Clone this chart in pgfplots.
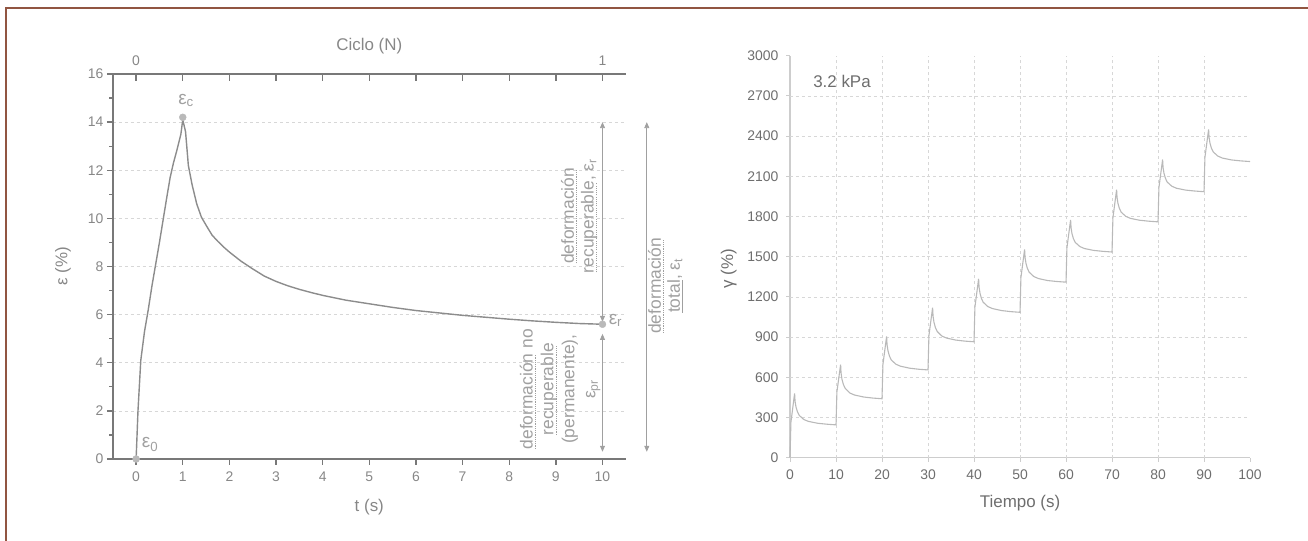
\documentclass[border=0pt]{standalone}
\usepackage{pgfplots}
\pgfplotsset{compat=1.18}
\usepackage{fontspec}
\setmainfont{Liberation Sans}
\usetikzlibrary{arrows.meta}
\newsavebox{\ulbox}
\newcommand{\dotul}[1]{\sbox{\ulbox}{#1}\rlap{\raisebox{-3bp}{\hbox to \wd\ulbox{\leaders\hbox to 2.2bp{\hss\rule{1.1bp}{0.7bp}\hss}\hfill}}}\usebox{\ulbox}}
\newcommand{\solul}[1]{\sbox{\ulbox}{#1}\rlap{\raisebox{-3bp}{\rule{\wd\ulbox}{0.7bp}}}\usebox{\ulbox}}
\definecolor{framec}{RGB}{145,85,65}
\definecolor{axgray}{RGB}{120,120,120}
\definecolor{tickgray}{RGB}{135,135,135}
\definecolor{anngray}{RGB}{160,160,160}
\definecolor{curvegray}{RGB}{140,140,140}
\definecolor{dotgray}{RGB}{185,185,185}
\definecolor{gridgray}{RGB}{215,215,215}
\definecolor{raxis}{RGB}{205,205,205}
\definecolor{rtick}{RGB}{110,110,110}
\definecolor{rcurve}{RGB}{185,185,185}
\tikzset{dblarr/.style={anngray, line width=0.8bp, {Triangle[length=6bp,width=5bp]}-{Triangle[length=6bp,width=5bp]}}}
\begin{document}
\begin{tikzpicture}
\path[use as bounding box] (0,0) rectangle (1308bp,541bp);
\draw[framec, line width=2bp] (6bp,0) -- (6bp,533bp) -- (1308bp,533bp);

% ---------- left chart, main axis ----------
\begin{axis}[at={(112.8bp,82bp)}, anchor=south west, scale only axis,
  width=513bp, height=385bp,
  xmin=-0.5, xmax=10.5, ymin=0, ymax=16,
  axis x line*=bottom, axis y line*=left,
  axis line style={axgray, line width=1.6bp, -},
  xtick={0,...,10}, ytick={0,2,...,16}, minor ytick={1,3,...,15},
  tick align=outside, major tick length=6bp, minor tick length=3.5bp,
  tick style={axgray, line width=1.3bp},
  ymajorgrids, grid style={gridgray, dashed, line width=0.6bp},
  ticklabel style={font=\fontsize{14}{14}\selectfont, text=tickgray},
  xticklabel style={yshift=-3bp},
  /pgf/number format/assume math mode=true,
  xlabel={t (s)}, ylabel={ε (\%)},
  label style={font=\fontsize{17}{17}\selectfont, text=tickgray},
  xlabel style={at={(axis description cs:0.5,-0.125)}, anchor=center},
  ylabel style={at={(axis description cs:-0.097,0.5)}, anchor=center},
  clip=false]
\addplot[curvegray, line width=1.4bp] coordinates {
(0,0) (0.04,2) (0.1,4.1) (0.18,5.3) (0.26,6.2) (0.34,7.2) (0.42,8.1) (0.5,9.0)
(0.59,10.07) (0.66,10.9) (0.73,11.7) (0.8,12.3) (0.87,12.8) (0.96,13.5) (1,14.1)
(1.06,13.6) (1.12,12.2) (1.2,11.4) (1.3,10.6) (1.4,10.05) (1.52,9.65) (1.63,9.3) (1.75,9.05)
(1.87,8.82) (2,8.6) (2.25,8.22) (2.5,7.9) (2.75,7.6) (3,7.38) (3.25,7.2) (3.5,7.05) (3.75,6.92) (4,6.8)
(4.5,6.6) (5,6.45) (5.5,6.3)
(6,6.17) (6.5,6.07) (7,5.97) (7.5,5.89) (8,5.81) (8.5,5.74) (9,5.68) (9.5,5.63) (10,5.6)};
\addplot[only marks, mark=*, mark size=3.5bp, dotgray, mark options={draw=dotgray, fill=dotgray}]
  coordinates {(0,0) (1,14.2) (10,5.6)};
\node[anngray, font=\fontsize{19}{19}\selectfont, anchor=base west, inner sep=0] at (axis cs:0.12,0.46) {ε\textsubscript{0}};
\node[anngray, font=\fontsize{19}{19}\selectfont, anchor=base west, inner sep=0] at (axis cs:0.9,14.75) {ε\textsubscript{c}};
\node[anngray, font=\fontsize{19}{19}\selectfont, anchor=base west, inner sep=0] at (axis cs:10.13,5.6) {ε\textsubscript{r}};
\draw[dblarr] (axis cs:10,14.0) -- (axis cs:10,5.7);
\draw[dblarr] (axis cs:10,5.2) -- (axis cs:10,0.3);
\draw[dblarr] (axis cs:10.95,14.0) -- (axis cs:10.95,0.3);
\node[anngray, rotate=90, align=center, font=\fontsize{17.5}{20}\selectfont, inner sep=0] at (axis cs:9.5,10.1)
  {\dotul{deformación}\\\dotul{recuperable}, ε\textsubscript{r}};
\node[anngray, rotate=90, align=center, font=\fontsize{17.5}{21}\selectfont, inner sep=0] at (axis cs:9.09,2.9)
  {\dotul{deformación} no\\\dotul{recuperable}\\(permanente),\\ε\textsubscript{pr}};
\node[anngray, rotate=90, align=center, font=\fontsize{17.5}{19}\selectfont, inner sep=0] at (axis cs:11.35,7.2)
  {\dotul{deformación}\\\solul{total}, ε\textsubscript{t}};
\end{axis}

% ---------- left chart, top axis (cycles) ----------
\begin{axis}[at={(112.8bp,82bp)}, anchor=south west, scale only axis,
  width=513bp, height=385bp,
  xmin=-0.5, xmax=10.5, ymin=0, ymax=16,
  axis x line*=top, axis y line=none,
  axis line style={axgray, line width=1.6bp, -},
  xtick={0,...,10}, xticklabels={0,,,,,,,,,,1}, ytick=\empty,
  tick align=inside, major tick length=7bp,
  tick style={axgray, line width=1.3bp},
  ticklabel style={font=\fontsize{14}{14}\selectfont, text=tickgray},
  xticklabel style={yshift=5bp},
  /pgf/number format/assume math mode=true,
  xlabel={Ciclo (N)},
  label style={font=\fontsize{17}{17}\selectfont, text=tickgray},
  xlabel style={at={(axis description cs:0.5,1.073)}, anchor=center}]
\end{axis}

% ---------- right chart ----------
\begin{axis}[at={(790bp,83.3bp)}, anchor=south west, scale only axis,
  width=460bp, height=402bp,
  xmin=0, xmax=100, ymin=0, ymax=3000,
  axis x line*=bottom, axis y line*=left,
  axis line style={raxis, line width=1.1bp, -},
  xtick={0,10,...,100}, ytick={0,300,...,3000},
  tick align=outside, major tick length=4bp,
  tick style={raxis, line width=0.9bp},
  extra x ticks={10,20,...,90}, extra x tick labels={},
  extra x tick style={xmajorgrids=true, tick style={draw=none}},
  extra y ticks={300,600,...,2700}, extra y tick labels={},
  extra y tick style={ymajorgrids=true, tick style={draw=none}},
  grid style={gridgray, dashed, line width=0.6bp},
  ticklabel style={font=\fontsize{14}{14}\selectfont, text=rtick},
  xticklabel style={yshift=-5bp}, yticklabel style={xshift=-4bp},
  /pgf/number format/assume math mode=true,
  /pgf/number format/1000 sep={},
  xlabel={Tiempo (s)}, ylabel={γ (\%)},
  label style={font=\fontsize{17}{17}\selectfont, text=rtick},
  xlabel style={at={(axis description cs:0.5,-0.112)}, anchor=center},
  ylabel style={at={(axis description cs:-0.133,0.47)}, anchor=center},
  clip=false]
\addplot[rcurve, line width=1.1bp] coordinates {
(0,0) (0.2,264) (1,480) (1.1,421) (1.3,379) (1.6,344) (2,316) (3,285) (4,271) (6,257) (8,250) (10,245)
(10.2,492) (11,695) (11.1,631) (11.3,585) (11.6,547) (12,517) (13,483) (14,468) (16,453) (18,445) (20,440)
(20.2,696) (21,905) (21.1,843) (21.3,798) (21.6,760) (22,730) (23,698) (24,683) (26,668) (28,660) (30,655)
(30.2,911) (31,1120) (31.1,1056) (31.3,1010) (31.6,972) (32,942) (33,908) (34,893) (36,878) (38,870) (40,865)
(40.2,1124) (41,1335) (41.1,1273) (41.3,1228) (41.6,1190) (42,1160) (43,1128) (44,1113) (46,1098) (48,1090) (50,1085)
(50.2,1344) (51,1555) (51.1,1494) (51.3,1450) (51.6,1413) (52,1384) (53,1352) (54,1337) (56,1322) (58,1315) (60,1310)
(60.2,1566) (61,1775) (61.1,1715) (61.3,1672) (61.6,1636) (62,1607) (63,1576) (64,1561) (66,1547) (68,1540) (70,1535)
(70.2,1791) (71,2000) (71.1,1940) (71.3,1897) (71.6,1861) (72,1832) (73,1801) (74,1786) (76,1772) (78,1765) (80,1760)
(80.2,2016) (81,2225) (81.1,2165) (81.3,2122) (81.6,2086) (82,2057) (83,2026) (84,2011) (86,1997) (88,1990) (90,1985)
(90.2,2241) (91,2450) (91.1,2390) (91.3,2347) (91.6,2311) (92,2282) (93,2251) (94,2236) (96,2222) (98,2215) (100,2210)};
\node[rtick, font=\fontsize{17}{17}\selectfont, anchor=center] at (axis cs:11.3,2806) {3.2 kPa};
\end{axis}
\end{tikzpicture}
\end{document}
